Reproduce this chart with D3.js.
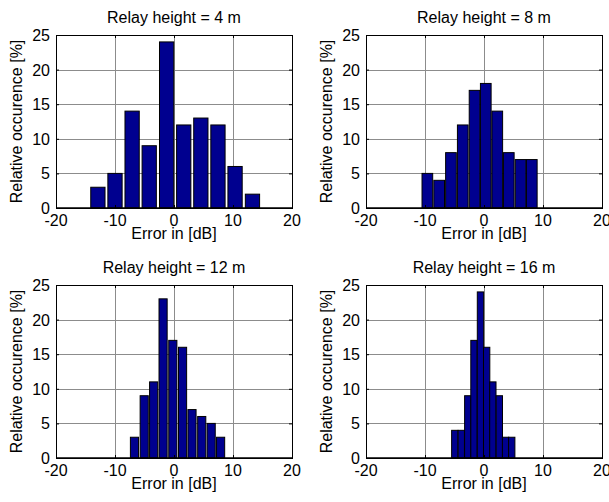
<!DOCTYPE html>
<html>
<head>
<meta charset="utf-8">
<script src="https://cdn.jsdelivr.net/npm/d3@7"></script>
<style>
  body { margin: 0; background: #fff; }
  text { font-family: "Liberation Sans", Arial, sans-serif; font-size: 16px; fill: #000; }
</style>
</head>
<body>
<div id="fig"></div>
<script>
// panel titles
var titles = ["Relay height = 4 m", "Relay height = 8 m", "Relay height = 12 m", "Relay height = 16 m"];
// bin centres [dB]
var centers4  = [-12.9, -10.0, -7.1, -4.2, -1.25, 1.65, 4.55, 7.45, 10.35, 13.3];
var centers8  = [-9.6, -7.6, -5.6, -3.6, -1.6, 0.3, 2.25, 4.2, 6.2, 8.1];
var centers12 = [-6.7, -5.05, -3.45, -1.85, -0.2, 1.45, 3.05, 4.7, 6.3, 7.9];
var centers16 = [-4.95, -3.85, -2.75, -1.7, -0.6, 0.45, 1.5, 2.6, 3.65, 4.7];
// relative occurence [%]
var values4  = [3, 5, 14, 9, 24, 12, 13, 12, 6, 2];
var values8  = [5, 4, 8, 12, 17, 18, 14, 8, 7, 7];
var values12 = [3, 9, 11, 23, 17, 16, 7, 6, 5, 3];
var values16 = [4, 4, 9, 17, 24, 16, 11, 9, 3, 3];
// ticks
var xTicks = [-20, -10, 0, 10, 20];
var yTicks = [0, 5, 10, 15, 20, 25];
var xLabel = "Error in [dB]";
var yLabel = "Relative occurence [%]";

var width = 609, height = 502;
var panelW = 236, panelH = 173;
var origins = [[56, 35], [366, 35], [56, 285], [366, 285]];   // top-left of each axes box
var barFrac = [0.83, 0.92, 0.85, 1.0];                            // bar width / bin spacing

var allCenters = [centers4, centers8, centers12, centers16];
var allValues = [values4, values8, values12, values16];

var svg = d3.select("#fig").append("svg").attr("width", width).attr("height", height);

for (let p = 0; p < 4; p++) {
  drawPanel(p);
}

function drawPanel(p) {
  var g = svg.append("g").attr("transform", "translate(" + origins[p][0] + "," + origins[p][1] + ")");
  var x = d3.scaleLinear().domain([-20, 20]).range([0, panelW]);
  var y = d3.scaleLinear().domain([0, 25]).range([panelH, 0]);

  // grid
  g.selectAll("xgrid").data(xTicks.slice(1, -1)).enter().append("line")
    .attr("x1", d => x(d) + 0.5).attr("x2", d => x(d) + 0.5)
    .attr("y1", 0).attr("y2", panelH)
    .attr("stroke", "#8c8c8c").attr("stroke-width", 1);
  g.selectAll("ygrid").data(yTicks.slice(1, -1)).enter().append("line")
    .attr("x1", 0).attr("x2", panelW)
    .attr("y1", d => Math.round(y(d)) + 0.5).attr("y2", d => Math.round(y(d)) + 0.5)
    .attr("stroke", "#8c8c8c").attr("stroke-width", 1);

  // bars
  var cs = allCenters[p], vs = allValues[p];
  var step = (cs[cs.length - 1] - cs[0]) / (cs.length - 1);
  var bw = step * barFrac[p];
  var data = cs.map((c, i) => ({c: c, v: vs[i]}));
  g.selectAll("bar").data(data).enter().append("rect")
    .attr("x", d => x(d.c - bw / 2))
    .attr("width", d => x(d.c + bw / 2) - x(d.c - bw / 2))
    .attr("y", d => y(d.v))
    .attr("height", d => y(0) - y(d.v))
    .attr("fill", "#00008f")
    .attr("stroke", "#000").attr("stroke-width", 1);

  // baseline
  g.append("line").attr("x1", 0).attr("x2", panelW).attr("y1", panelH).attr("y2", panelH)
    .attr("stroke", "#000").attr("stroke-width", 1.5);

  // axes box with inward ticks
  g.append("rect").attr("x", 0.5).attr("y", 0.5).attr("width", panelW).attr("height", panelH)
    .attr("fill", "none").attr("stroke", "#000").attr("stroke-width", 1);
  var tl = 3;
  xTicks.forEach(function(t) {
    g.append("line").attr("x1", x(t) + 0.5).attr("x2", x(t) + 0.5).attr("y1", panelH).attr("y2", panelH - tl).attr("stroke", "#000");
    g.append("line").attr("x1", x(t) + 0.5).attr("x2", x(t) + 0.5).attr("y1", 0).attr("y2", tl).attr("stroke", "#000");
  });
  yTicks.forEach(function(t) {
    g.append("line").attr("x1", 0).attr("x2", tl).attr("y1", y(t) + 0.5).attr("y2", y(t) + 0.5).attr("stroke", "#000");
    g.append("line").attr("x1", panelW - tl).attr("x2", panelW).attr("y1", y(t) + 0.5).attr("y2", y(t) + 0.5).attr("stroke", "#000");
  });

  // tick labels
  g.selectAll("xtl").data(xTicks).enter().append("text")
    .attr("x", d => x(d)).attr("y", panelH + 18)
    .attr("text-anchor", "middle")
    .text(d => d);
  g.selectAll("ytl").data(yTicks).enter().append("text")
    .attr("x", -6).attr("y", d => y(d) + 6)
    .attr("text-anchor", "end")
    .text(d => d);

  // labels and title
  g.append("text").attr("x", panelW / 2).attr("y", panelH + 31)
    .attr("text-anchor", "middle").text(xLabel);
  g.append("text").attr("transform", "translate(-34," + (panelH / 2) + ") rotate(-90)")
    .attr("text-anchor", "middle").text(yLabel);
  g.append("text").attr("x", panelW / 2).attr("y", -12)
    .attr("text-anchor", "middle").text(titles[p]);
}
</script>
</body>
</html>
